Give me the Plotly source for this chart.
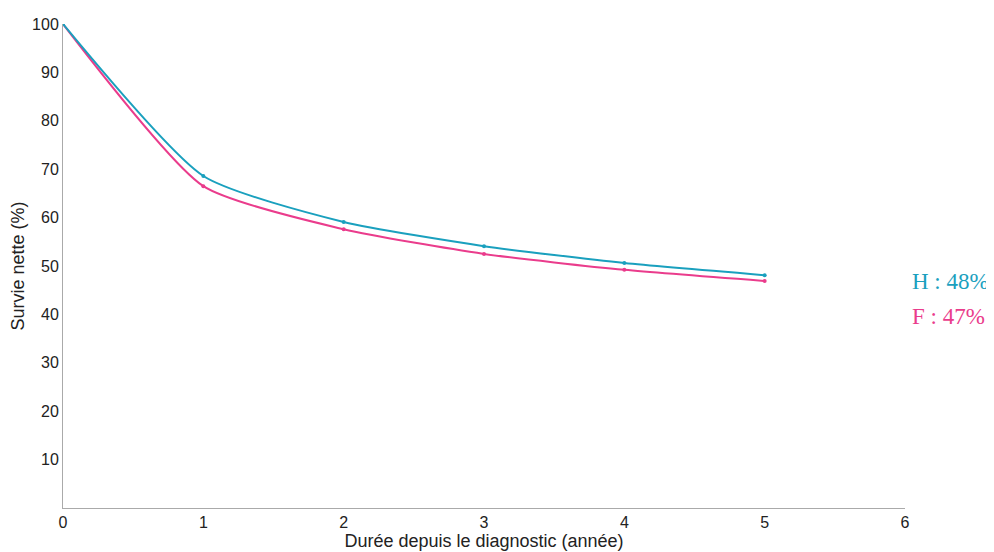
import plotly.graph_objects as go

years = [0, 1, 2, 3, 4, 5]
hommes = [100, 68.6, 59.1, 54.1, 50.6, 48.1]
femmes = [100, 66.5, 57.6, 52.5, 49.2, 46.9]
labels = {"H": "H : 48%", "F": "F : 47%"}
y_ticks = [10, 20, 30, 40, 50, 60, 70, 80, 90, 100]
x_ticks = [0, 1, 2, 3, 4, 5, 6]

teal = "#1aa0be"
pink = "#ea3c8c"

fig = go.Figure()
fig.add_trace(go.Scatter(x=years, y=femmes, mode="lines+markers",
                         line=dict(color=pink, width=2, shape="spline", smoothing=0.6),
                         marker=dict(size=4, color=pink), name="F"))
fig.add_trace(go.Scatter(x=years, y=hommes, mode="lines+markers",
                         line=dict(color=teal, width=2, shape="spline", smoothing=0.6),
                         marker=dict(size=4, color=teal), name="H"))

fig.add_annotation(x=1.0, xref="paper", xanchor="left", xshift=5, y=46.9,
                   text=labels["H"], showarrow=False,
                   font=dict(family="Liberation Serif, Times New Roman, serif", size=23, color=teal))
fig.add_annotation(x=1.0, xref="paper", xanchor="left", xshift=5, y=39.6,
                   text=labels["F"], showarrow=False,
                   font=dict(family="Liberation Serif, Times New Roman, serif", size=23, color=pink))

fig.update_layout(
    width=994, height=552,
    margin=dict(l=55, r=97, t=16, b=52, autoexpand=False),
    plot_bgcolor="white", paper_bgcolor="white",
    showlegend=False,
    font=dict(family="Liberation Sans, Arial, sans-serif", size=16, color="#222"),
    xaxis=dict(range=[0, 6], tickvals=x_ticks, showgrid=False, zeroline=False,
               showline=True, linecolor="#aaa", linewidth=1, ticks="",
               tickfont=dict(size=16),
               title=dict(text="Durée depuis le diagnostic (année)", standoff=3,
                          font=dict(size=18))),
    yaxis=dict(range=[0, 100], tickvals=y_ticks, showgrid=False, zeroline=False,
               showline=True, linecolor="#aaa", linewidth=1, ticks="",
               tickfont=dict(size=16),
               title=dict(text="Survie nette (%)", standoff=6, font=dict(size=18))),
)
fig.update_xaxes(ticklabelstandoff=0)
fig.update_yaxes(ticklabelstandoff=0)

fig.write_html("out.html")
